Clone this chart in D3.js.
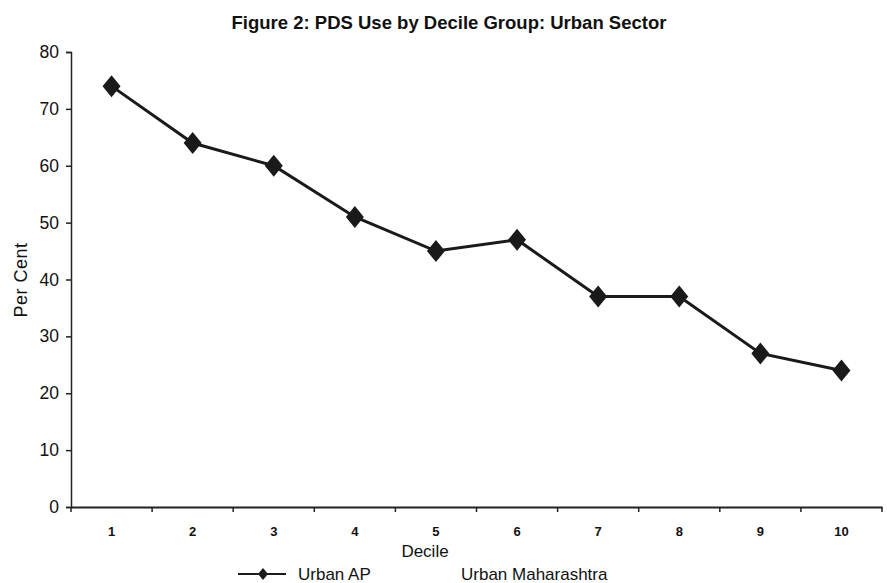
<!DOCTYPE html>
<html><head><meta charset="utf-8">
<script src="https://cdn.jsdelivr.net/npm/d3@7"></script>
<style>body{margin:0;background:#fff;} text{font-family:"Liberation Sans",Arial,sans-serif;fill:#111;}</style>
</head><body>
<svg id="c" width="887" height="583"></svg>
<script>
const deciles = ["1","2","3","4","5","6","7","8","9","10"];
const urbanAP = [74, 64, 60, 51, 45, 47, 37, 37, 27, 24];
const yTicks = [0,10,20,30,40,50,60,70,80];
const seriesNames = ["Urban AP", "Urban Maharashtra"];

const svg = d3.select("#c");
const x = d3.scaleBand().domain(deciles).range([71, 882]);
const y = d3.scaleLinear().domain([0, 80]).range([507, 52]);

// title
svg.append("text").attr("x", 449).attr("y", 29).attr("text-anchor", "middle")
  .style("font-size", "18.5px").style("font-weight", "bold")
  .text("Figure 2: PDS Use by Decile Group: Urban Sector");

// y axis
const ya = svg.append("g").attr("transform", "translate(71,0)")
  .call(d3.axisLeft(y).tickValues(yTicks).tickSize(5).tickPadding(7));
ya.select(".domain").attr("stroke", "#222").attr("stroke-width", 1.5);
ya.selectAll(".tick line").attr("stroke", "#222").attr("stroke-width", 1.5);
ya.selectAll("text").style("font-size", "17.5px").style("font-family", "Liberation Sans, Arial").attr("fill", "#111");

// x axis
const xa = svg.append("g").attr("transform", "translate(0,507)")
  .call(d3.axisBottom(x).tickSize(0).tickPadding(20).tickSizeOuter(0));
xa.select(".domain").attr("stroke", "#222").attr("stroke-width", 2);
xa.selectAll("text").style("font-size", "13px").style("font-weight", "bold").attr("fill", "#111");
// boundary ticks
const bounds = deciles.map(d => x(d)).concat([x.range()[1]]);
xa.selectAll(".bt").data(bounds).enter().append("line")
  .attr("x1", d => d).attr("x2", d => d).attr("y1", 0).attr("y2", 5)
  .attr("stroke", "#222").attr("stroke-width", 1.5);

// axis titles
svg.append("text").attr("x", 425).attr("y", 557).attr("text-anchor", "middle")
  .style("font-size", "17px").text("Decile");
svg.append("text").attr("transform", "translate(27,280) rotate(-90)").attr("text-anchor", "middle")
  .style("font-size", "18px").style("letter-spacing", "0.5px").text("Per Cent");

// line
const cx = d => x(d) + x.bandwidth() / 2;
const line = d3.line().x((d, i) => cx(deciles[i])).y(d => y(d));
svg.append("path").datum(urbanAP).attr("d", line)
  .attr("fill", "none").attr("stroke", "#1a1a1a").attr("stroke-width", 3);

const diamond = "M0,-11 L9,0 L0,11 L-9,0 Z";
svg.selectAll(".pt").data(urbanAP).enter().append("path")
  .attr("d", diamond)
  .attr("transform", (d, i) => `translate(${cx(deciles[i])},${y(d)})`)
  .attr("fill", "#1a1a1a");

// legend
const lg = svg.append("g");
lg.append("line").attr("x1", 238).attr("x2", 286).attr("y1", 574).attr("y2", 574)
  .attr("stroke", "#1a1a1a").attr("stroke-width", 2);
lg.append("path").attr("d", "M0,-6 L5,0 L0,6 L-5,0 Z").attr("transform", "translate(263,574)").attr("fill", "#1a1a1a");
lg.append("text").attr("x", 298).attr("y", 580).style("font-size", "17px").text(seriesNames[0]);
lg.append("text").attr("x", 461).attr("y", 580).style("font-size", "17px").text(seriesNames[1]);
</script>
</body></html>
